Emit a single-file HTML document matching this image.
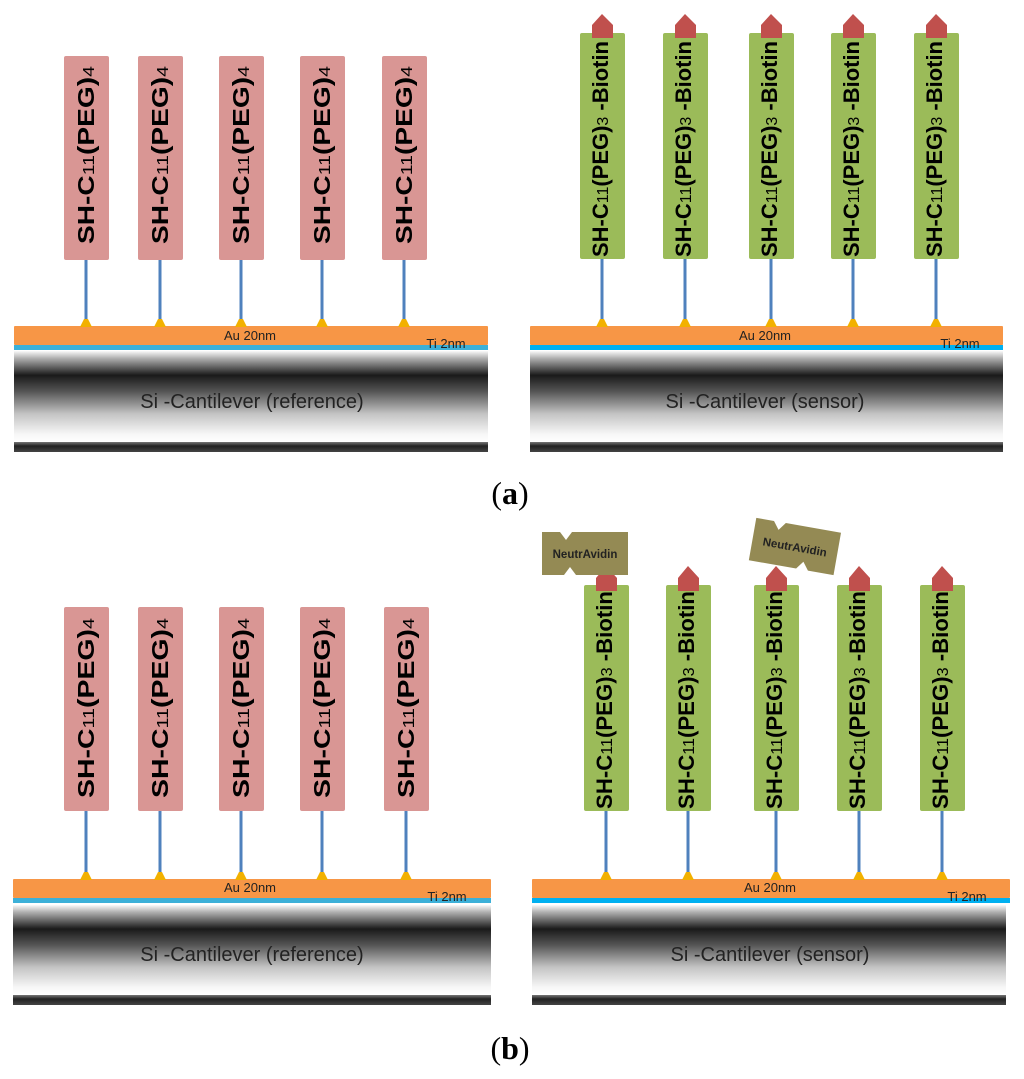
<!DOCTYPE html>
<html><head><meta charset="utf-8"><style>
html,body{margin:0;padding:0;background:#fff;}
svg{display:block;font-family:"Liberation Sans",sans-serif;}
.lbl{font-weight:bold;fill:#000;}
</style></head><body>
<svg width="1024" height="1079" viewBox="0 0 1024 1079" xmlns="http://www.w3.org/2000/svg">
<defs>
<linearGradient id="si" x1="0" y1="0" x2="0" y2="1">
<stop offset="0" stop-color="#fafafa"/>
<stop offset="0.08" stop-color="#b0b0b0"/>
<stop offset="0.27" stop-color="#1a1a1a"/>
<stop offset="0.45" stop-color="#555"/>
<stop offset="0.7" stop-color="#c4c4c4"/>
<stop offset="0.92" stop-color="#f6f6f6"/>
<stop offset="1" stop-color="#fdfdfd"/>
</linearGradient>
<linearGradient id="bar" x1="0" y1="0" x2="0" y2="1">
<stop offset="0" stop-color="#777"/><stop offset="0.4" stop-color="#222"/><stop offset="1" stop-color="#444"/>
</linearGradient>
</defs>

<g>
<rect x="14" y="326" width="474" height="19" fill="#f79646" rx="1"/>
<rect x="14" y="345" width="474" height="5" fill="#3cb0d8"/>
<rect x="14" y="351" width="474" height="90" fill="url(#si)"/>
<rect x="14" y="442" width="474" height="10" fill="url(#bar)"/>
<text x="250" y="340" font-size="13" text-anchor="middle" fill="#222">Au 20nm</text>
<text x="446" y="348" font-size="13" text-anchor="middle" fill="#222">Ti 2nm</text>
<text x="252" y="408" font-size="20" text-anchor="middle" fill="#222">Si -Cantilever  (reference)</text>
</g>
<g>
<rect x="530" y="326" width="473" height="19" fill="#f79646" rx="1"/>
<rect x="530" y="345" width="473" height="5" fill="#00b0f0"/>
<rect x="530" y="351" width="473" height="90" fill="url(#si)"/>
<rect x="530" y="442" width="473" height="10" fill="url(#bar)"/>
<text x="765" y="340" font-size="13" text-anchor="middle" fill="#222">Au 20nm</text>
<text x="960" y="348" font-size="13" text-anchor="middle" fill="#222">Ti 2nm</text>
<text x="765" y="408" font-size="20" text-anchor="middle" fill="#222">Si -Cantilever  (sensor)</text>
</g>
<g>
<rect x="13" y="879" width="478" height="19" fill="#f79646" rx="1"/>
<rect x="13" y="898" width="478" height="5" fill="#3cb0d8"/>
<rect x="13" y="905" width="478" height="89" fill="url(#si)"/>
<rect x="13" y="995" width="478" height="10" fill="url(#bar)"/>
<text x="250" y="892" font-size="13" text-anchor="middle" fill="#222">Au 20nm</text>
<text x="447" y="901" font-size="13" text-anchor="middle" fill="#222">Ti 2nm</text>
<text x="252" y="961" font-size="20" text-anchor="middle" fill="#222">Si -Cantilever  (reference)</text>
</g>
<g>
<rect x="532" y="879" width="478" height="19" fill="#f79646" rx="1"/>
<rect x="532" y="898" width="478" height="5" fill="#00b0f0"/>
<rect x="532" y="905" width="474" height="89" fill="url(#si)"/>
<rect x="532" y="995" width="474" height="10" fill="url(#bar)"/>
<text x="770" y="892" font-size="13" text-anchor="middle" fill="#222">Au 20nm</text>
<text x="967" y="901" font-size="13" text-anchor="middle" fill="#222">Ti 2nm</text>
<text x="770" y="961" font-size="20" text-anchor="middle" fill="#222">Si -Cantilever  (sensor)</text>
</g>

<g id="pa">
<g transform="translate(86,0)">
<rect x="-22" y="56" width="45" height="204" fill="#d99694" rx="2"/>
<line x1="0" y1="260" x2="0" y2="322" stroke="#4f81bd" stroke-width="3"/>
<polygon points="-6,327 6,327 2,319 -2,319" fill="#f2b100"/>
<text class="lbl" transform="translate(8,155) rotate(-90)" font-size="23" text-anchor="middle" textLength="178" lengthAdjust="spacingAndGlyphs">SH-C<tspan font-size="16" font-weight="normal">11</tspan>(PEG)<tspan font-size="16" font-weight="normal">4</tspan></text>
</g>
</g>
<use href="#pa" transform="translate(74,0)"/>
<use href="#pa" transform="translate(155,0)"/>
<use href="#pa" transform="translate(236,0)"/>
<use href="#pa" transform="translate(318,0)"/>

<g id="pb">
<g transform="translate(86,0)">
<rect x="-22" y="607" width="45" height="204" fill="#d99694" rx="2"/>
<line x1="0" y1="811" x2="0" y2="876" stroke="#4f81bd" stroke-width="3"/>
<polygon points="-6,880 6,880 2,872 -2,872" fill="#f2b100"/>
<text class="lbl" transform="translate(8,708) rotate(-90)" font-size="23" text-anchor="middle" textLength="180" lengthAdjust="spacingAndGlyphs">SH-C<tspan font-size="16" font-weight="normal">11</tspan>(PEG)<tspan font-size="16" font-weight="normal">4</tspan></text>
</g>
</g>
<use href="#pb" transform="translate(74,0)"/>
<use href="#pb" transform="translate(155,0)"/>
<use href="#pb" transform="translate(236,0)"/>
<use href="#pb" transform="translate(320,0)"/>

<g id="ga">
<g transform="translate(602,0)">
<rect x="-22" y="33" width="45" height="226" fill="#9bbb59" rx="2"/>
<line x1="0" y1="259" x2="0" y2="322" stroke="#4f81bd" stroke-width="3"/>
<polygon points="-6,327 6,327 2,319 -2,319" fill="#f2b100"/>
<polygon points="-10,38 11,38 11,25 0,14 -10,25" fill="#c0504d"/>
<text class="lbl" transform="translate(6,149) rotate(-90)" font-size="22" text-anchor="middle" textLength="216" lengthAdjust="spacingAndGlyphs">SH-C<tspan font-size="16" font-weight="normal">11</tspan>(PEG)<tspan font-size="16" font-weight="normal">3</tspan> -Biotin</text>
</g>
</g>
<use href="#ga" transform="translate(83,0)"/>
<use href="#ga" transform="translate(169,0)"/>
<use href="#ga" transform="translate(251,0)"/>
<use href="#ga" transform="translate(334,0)"/>

<g id="gb">
<g transform="translate(606,0)">
<rect x="-22" y="585" width="45" height="226" fill="#9bbb59" rx="2"/>
<line x1="0" y1="811" x2="0" y2="876" stroke="#4f81bd" stroke-width="3"/>
<polygon points="-6,880 6,880 2,872 -2,872" fill="#f2b100"/>
<polygon points="-10,591 11,591 11,578 0,566 -10,578" fill="#c0504d"/>
<text class="lbl" transform="translate(6,700) rotate(-90)" font-size="22" text-anchor="middle" textLength="218" lengthAdjust="spacingAndGlyphs">SH-C<tspan font-size="16" font-weight="normal">11</tspan>(PEG)<tspan font-size="16" font-weight="normal">3</tspan> -Biotin</text>
</g>
</g>
<use href="#gb" transform="translate(82,0)"/>
<use href="#gb" transform="translate(170,0)"/>
<use href="#gb" transform="translate(253,0)"/>
<use href="#gb" transform="translate(336,0)"/>

<g transform="translate(542,532)">
<path d="M0,0 H18 L24,8 L30,0 H86 V43 H34 L28,35 L22,43 H0 Z" fill="#948a54"/>
<text x="43" y="26" font-size="11.5" font-weight="bold" text-anchor="middle" fill="#222">NeutrAvidin</text>
</g>
<g transform="translate(795,546) rotate(10)">
<g transform="translate(-43,-21)">
<path d="M0,0 H18 L24,8 L30,0 H86 V43 H60 L54,35 L48,43 H0 Z" fill="#948a54"/>
<text x="43" y="26" font-size="11.5" font-weight="bold" text-anchor="middle" fill="#222">NeutrAvidin</text>
</g>
</g>

<text x="510" y="504" font-family="Liberation Serif, serif" font-size="32" text-anchor="middle" fill="#000">(<tspan font-weight="bold">a</tspan>)</text>
<text x="510" y="1059" font-family="Liberation Serif, serif" font-size="32" text-anchor="middle" fill="#000">(<tspan font-weight="bold">b</tspan>)</text>
</svg>
</body></html>
